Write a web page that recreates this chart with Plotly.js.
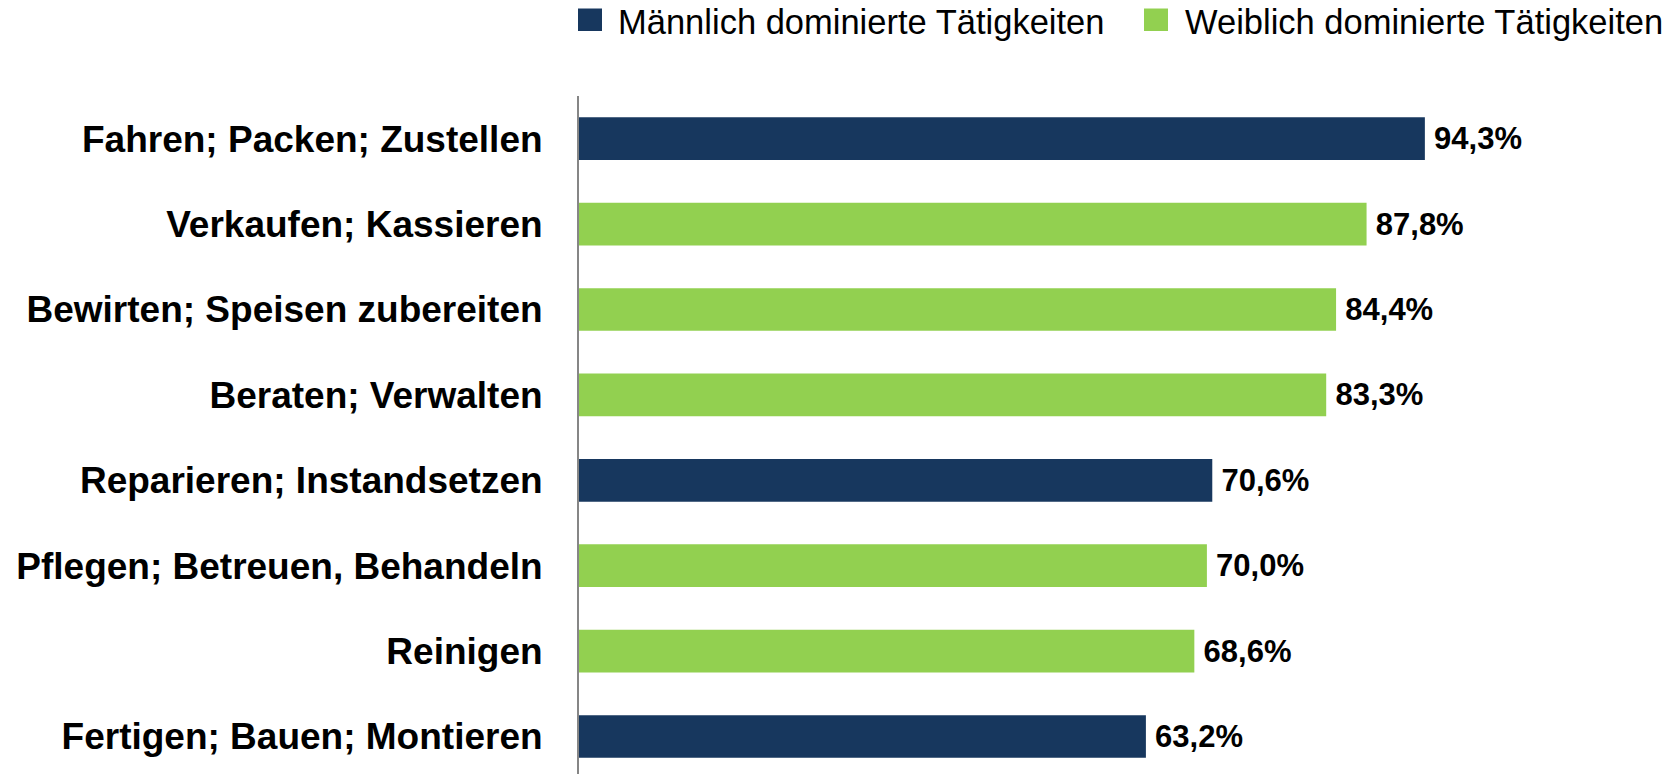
<!DOCTYPE html>
<html>
<head>
<meta charset="utf-8">
<script src="https://cdn.plot.ly/plotly-3.0.1.min.js"></script>
<style>html,body{margin:0;padding:0;background:#fff;}#chart{width:1680px;height:774px;}</style>
</head>
<body>
<div id="chart"></div>
<script>
const categories = [
  "Fahren; Packen; Zustellen",
  "Verkaufen; Kassieren",
  "Bewirten; Speisen zubereiten",
  "Beraten; Verwalten",
  "Reparieren; Instandsetzen",
  "Pflegen; Betreuen, Behandeln",
  "Reinigen",
  "Fertigen; Bauen; Montieren"
];
const values = [94.3, 87.8, 84.4, 83.3, 70.6, 70.0, 68.6, 63.2];
const groups = ["m", "w", "w", "w", "m", "w", "w", "m"];
const seriesNames = {m: "Männlich dominierte Tätigkeiten", w: "Weiblich dominierte Tätigkeiten"};
const seriesColors = {m: "#17375E", w: "#92D050"};

const W = 1680, H = 774;
const margin = {l: 579, r: 80, t: 96, b: 0};
const plotW = W - margin.l - margin.r;
const plotH = H - margin.t - margin.b;
const FONT = "Liberation Sans, Arial, sans-serif";

function px2x(px) { return (px - margin.l) / plotW; }
function py2y(py) { return (H - margin.b - py) / plotH; }

const traces = ["m", "w"].map(g => {
  const xs = [], ys = [];
  values.forEach((v, i) => { if (groups[i] === g) { xs.push(v); ys.push(categories[i]); } });
  return {
    type: "bar", orientation: "h", name: seriesNames[g],
    x: xs, y: ys,
    marker: {color: seriesColors[g], line: {width: 0}},
    texttemplate: "\u2009%{x:.1f}%", textposition: "outside",
    textfont: {family: FONT, size: 31, color: "#000", weight: "bold"},
    cliponaxis: false, showlegend: false, hoverinfo: "skip"
  };
});

// manual legend (larger square markers as in the reference)
const legendItems = [
  {g: "m", sx: 578, tx: 616},
  {g: "w", sx: 1144, tx: 1183}
];
const shapes = legendItems.map(it => ({
  type: "rect", xref: "paper", yref: "paper",
  x0: px2x(it.sx), x1: px2x(it.sx + 24), y0: py2y(31), y1: py2y(8.5),
  fillcolor: seriesColors[it.g], line: {width: 0}
}));
const annotations = legendItems.map(it => ({
  xref: "paper", yref: "paper", x: px2x(it.tx), y: py2y(22),
  xanchor: "left", yanchor: "middle", showarrow: false,
  text: seriesNames[it.g],
  font: {family: FONT, size: 34.5, color: "#000"}
}));

const layout = {
  width: W, height: H, margin: margin,
  paper_bgcolor: "#fff", plot_bgcolor: "#fff",
  separators: ",.",
  barmode: "overlay", bargap: 0.5,
  showlegend: false,
  font: {family: FONT, color: "#000"},
  xaxis: {range: [0, plotW / 8.97], showgrid: false, zeroline: false, showticklabels: false, showline: false, fixedrange: true},
  yaxis: {
    type: "category", categoryorder: "array", categoryarray: categories,
    range: [plotH / 85.4 - 0.5, -0.5],
    showgrid: false, zeroline: false,
    showline: true, linecolor: "#868686", linewidth: 2,
    ticks: "", ticklabelstandoff: 27,
    tickfont: {family: FONT, size: 37, color: "#000", weight: "bold"}
  },
  shapes: shapes, annotations: annotations
};

Plotly.newPlot("chart", traces, layout, {displayModeBar: false, staticPlot: true});
</script>
</body>
</html>
